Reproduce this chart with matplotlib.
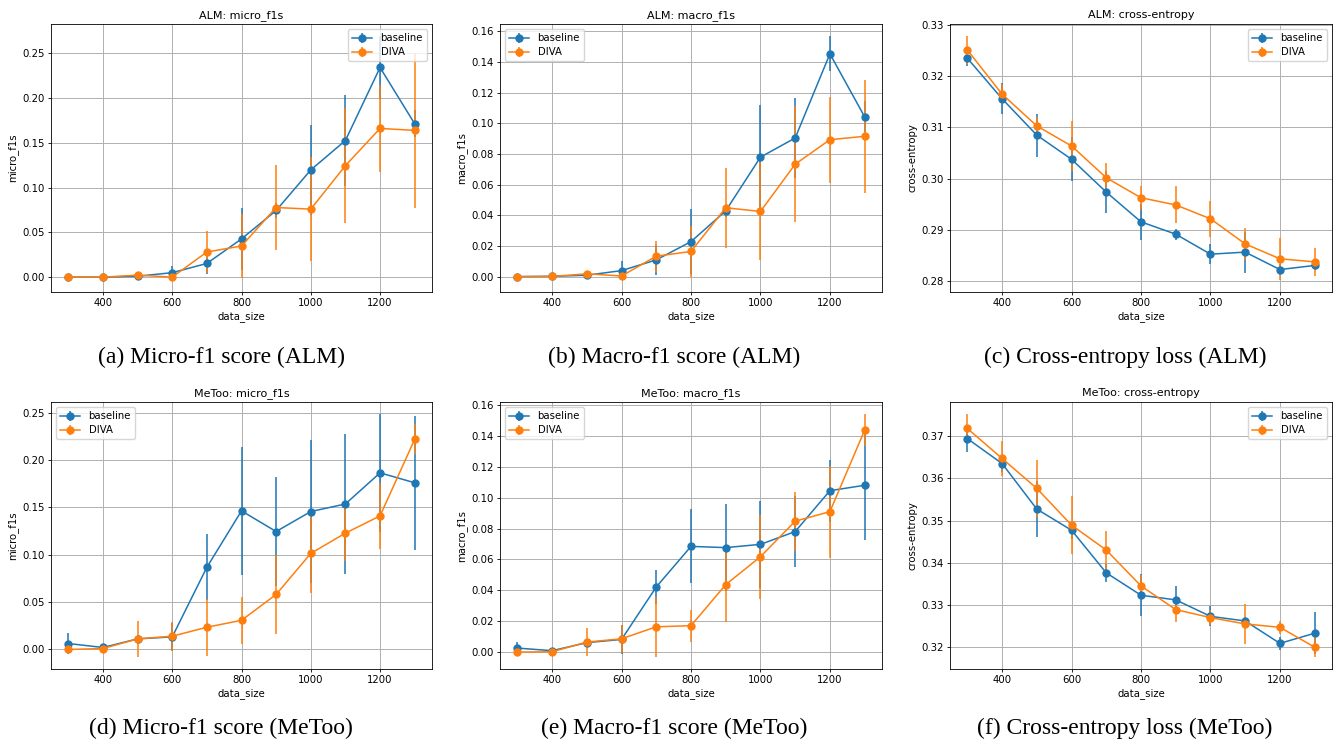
import matplotlib
matplotlib.use('Agg')
import matplotlib.pyplot as plt

# data sizes on the x axis
data_size = [300, 400, 500, 600, 700, 800, 900, 1000, 1100, 1200, 1300]

# ALM: micro_f1s
alm_micro_base = [0.0, 0.0, 0.001, 0.005, 0.0153, 0.0427, 0.0745, 0.1198, 0.1527, 0.2343, 0.1714]
alm_micro_base_err = [0.0005, 0.0005, 0.001, 0.008, 0.012, 0.035, 0.008, 0.05, 0.051, 0.035, 0.015]
alm_micro_diva = [0.0, 0.0, 0.0022, 0.0, 0.0281, 0.0348, 0.0778, 0.076, 0.1246, 0.1662, 0.164]
alm_micro_diva_err = [0.0005, 0.0005, 0.001, 0.001, 0.024, 0.036, 0.047, 0.058, 0.064, 0.049, 0.087]

# ALM: macro_f1s
alm_macro_base = [0.0, 0.0002, 0.0009, 0.0039, 0.0109, 0.0228, 0.0429, 0.0779, 0.0904, 0.1453, 0.1042]
alm_macro_base_err = [0.0003, 0.0003, 0.0005, 0.006, 0.0096, 0.021, 0.004, 0.034, 0.026, 0.0115, 0.01]
alm_macro_diva = [0.0, 0.0001, 0.0018, 0.0004, 0.0133, 0.0164, 0.0449, 0.0425, 0.0733, 0.0893, 0.0915]
alm_macro_diva_err = [0.0003, 0.0003, 0.001, 0.0005, 0.01, 0.0164, 0.026, 0.032, 0.038, 0.028, 0.037]

# ALM: cross-entropy
alm_ce_base = [0.3235, 0.3156, 0.3085, 0.3038, 0.2974, 0.2916, 0.2892, 0.2853, 0.2857, 0.2823, 0.2831]
alm_ce_base_err = [0.0015, 0.003, 0.0042, 0.0043, 0.0041, 0.0035, 0.0011, 0.0019, 0.004, 0.001, 0.0008]
alm_ce_diva = [0.3251, 0.3165, 0.3103, 0.3064, 0.3002, 0.2963, 0.2949, 0.2922, 0.2873, 0.2844, 0.2838]
alm_ce_diva_err = [0.0027, 0.002, 0.0018, 0.0048, 0.0028, 0.0023, 0.0036, 0.0035, 0.0031, 0.0041, 0.0028]

# MeToo: micro_f1s
metoo_micro_base = [0.0063, 0.0021, 0.0112, 0.0133, 0.0868, 0.1464, 0.1246, 0.1457, 0.1537, 0.1866, 0.1761]
metoo_micro_base_err = [0.0116, 0.001, 0.003, 0.015, 0.035, 0.068, 0.058, 0.076, 0.074, 0.062, 0.071]
metoo_micro_diva = [0.0, 0.001, 0.0112, 0.014, 0.0235, 0.0308, 0.0581, 0.1015, 0.1229, 0.1411, 0.222]
metoo_micro_diva_err = [0.001, 0.001, 0.019, 0.0154, 0.030, 0.025, 0.042, 0.042, 0.029, 0.035, 0.016]

# MeToo: macro_f1s
metoo_macro_base = [0.0026, 0.0009, 0.0061, 0.0082, 0.0422, 0.0685, 0.0677, 0.0698, 0.0781, 0.1046, 0.1081]
metoo_macro_base_err = [0.0037, 0.0005, 0.002, 0.0095, 0.011, 0.024, 0.028, 0.028, 0.023, 0.02, 0.0355]
metoo_macro_diva = [0.0, 0.0002, 0.0065, 0.0086, 0.0164, 0.0171, 0.0437, 0.0618, 0.0848, 0.091, 0.1438]
metoo_macro_diva_err = [0.0005, 0.0005, 0.009, 0.009, 0.0195, 0.0103, 0.0245, 0.0272, 0.019, 0.0298, 0.0104]

# MeToo: cross-entropy
metoo_ce_base = [0.3694, 0.3635, 0.3527, 0.3477, 0.3376, 0.3323, 0.3312, 0.3273, 0.3262, 0.3209, 0.3233]
metoo_ce_base_err = [0.0031, 0.002, 0.0067, 0.002, 0.0021, 0.005, 0.0032, 0.0024, 0.001, 0.0015, 0.005]
metoo_ce_diva = [0.3718, 0.3647, 0.3576, 0.3489, 0.343, 0.3345, 0.3289, 0.327, 0.3255, 0.3247, 0.32]
metoo_ce_diva_err = [0.0034, 0.0042, 0.0068, 0.0068, 0.0045, 0.0027, 0.0029, 0.0018, 0.0047, 0.0016, 0.0023]

panels = [
    ('ALM: micro_f1s', 'micro_f1s', alm_micro_base, alm_micro_base_err, alm_micro_diva, alm_micro_diva_err,
     'upper right', '(a) Micro-f1 score (ALM)'),
    ('ALM: macro_f1s', 'macro_f1s', alm_macro_base, alm_macro_base_err, alm_macro_diva, alm_macro_diva_err,
     'upper left', '(b) Macro-f1 score (ALM)'),
    ('ALM: cross-entropy', 'cross-entropy', alm_ce_base, alm_ce_base_err, alm_ce_diva, alm_ce_diva_err,
     'upper right', '(c) Cross-entropy loss (ALM)'),
    ('MeToo: micro_f1s', 'micro_f1s', metoo_micro_base, metoo_micro_base_err, metoo_micro_diva, metoo_micro_diva_err,
     'upper left', '(d) Micro-f1 score (MeToo)'),
    ('MeToo: macro_f1s', 'macro_f1s', metoo_macro_base, metoo_macro_base_err, metoo_macro_diva, metoo_macro_diva_err,
     'upper left', '(e) Macro-f1 score (MeToo)'),
    ('MeToo: cross-entropy', 'cross-entropy', metoo_ce_base, metoo_ce_base_err, metoo_ce_diva, metoo_ce_diva_err,
     'upper right', '(f) Cross-entropy loss (MeToo)'),
]

W, H = 1339, 754
fig = plt.figure(figsize=(W / 100, H / 100), dpi=100)

# axes boxes in pixels: left, right, top, bottom
col_lr = [(51, 432), (500, 882), (950, 1332)]
row_tb = [(24, 292), (402, 669)]
caption_x = [221, 674, 1125]
caption_y = [357, 728]

for i, (title, ylabel, yb, eb, yd, ed, loc, caption) in enumerate(panels):
    r, c = divmod(i, 3)
    l, rr = col_lr[c]
    t, b = row_tb[r]
    ax = fig.add_axes([l / W, 1 - b / H, (rr - l) / W, (b - t) / H])
    ax.errorbar(data_size, yb, yerr=eb, marker='o', color='#1f77b4', label='baseline',
                linewidth=1.1, markersize=5)
    ax.errorbar(data_size, yd, yerr=ed, marker='o', color='#ff7f0e', label='DIVA',
                linewidth=1.1, markersize=5)
    ax.set_title(title, fontsize=8, pad=4)
    ax.set_xlabel('data_size', fontsize=7.3, labelpad=2)
    ax.set_ylabel(ylabel, fontsize=7.3, labelpad=3)
    ax.tick_params(labelsize=7.3, length=2.5, width=0.6, pad=2)
    ax.grid(True, color='#b0b0b0', linewidth=0.7)
    ax.legend(loc=loc, fontsize=7.3, borderpad=0.4, handlelength=2.0, labelspacing=0.4)
    for s in ax.spines.values():
        s.set_linewidth(0.6)
    fig.text(caption_x[c] / W, 1 - caption_y[r] / H, caption, ha='center', va='center',
             fontsize=17, family='Liberation Serif')

fig.savefig('out.png', dpi=100)
